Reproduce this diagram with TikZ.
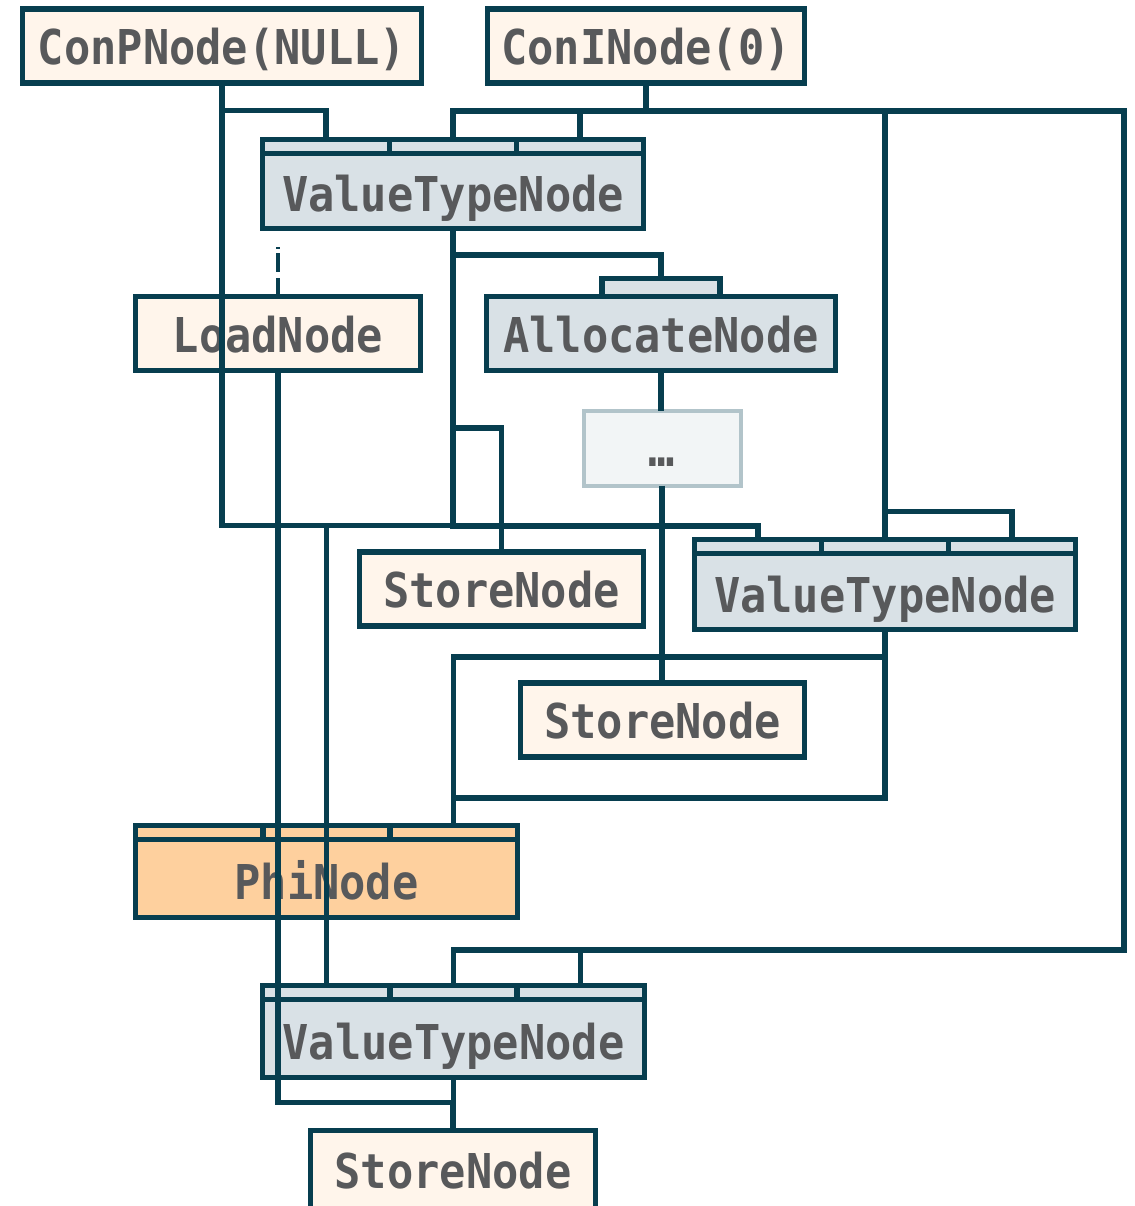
\documentclass[tikz,border=0pt]{standalone}
\usepackage{fontspec}
\newfontfamily\graphfont[FakeStretch=0.91]{DejaVu Sans Mono}
\usepackage{tikz}
\usetikzlibrary{calc}

\definecolor{wirecol}{HTML}{073E4F}
\definecolor{creamfill}{HTML}{FFF5EB}
\definecolor{typefill}{HTML}{D9E1E6}
\definecolor{phifill}{HTML}{FED09E}
\definecolor{dotsfill}{HTML}{F2F5F6}
\definecolor{dotsline}{HTML}{B2C4CA}
\definecolor{labelgray}{HTML}{58595B}

\begin{document}
\begin{tikzpicture}[x=1pt, y=-1pt,
    wire/.style={draw=wirecol, line width=5.5pt},
    box/.style={rectangle, draw=wirecol, line width=5.5pt, inner sep=0pt, outer sep=0pt,
      text=labelgray, font=\graphfont\bfseries\fontsize{48}{54}\selectfont,
      text height=37pt, text depth=0pt},
    plainbox/.style={box, fill=creamfill, minimum height=74pt},
    headbox/.style={box, text height=55pt,
      path picture={
        \coordinate (hnw) at (path picture bounding box.north west);
        \coordinate (hne) at (path picture bounding box.north east);
        \draw[wire] ([yshift=-14pt]hnw) -- ([yshift=-14pt]hne);
        \draw[wire] ($(hnw)!1/3!(hne)$) -- ++(0pt,-14pt);
        \draw[wire] ($(hnw)!2/3!(hne)$) -- ++(0pt,-14pt);
      }},
    tabbox/.style={rectangle, draw=wirecol, line width=5.5pt, fill=typefill,
      inner sep=0pt, outer sep=0pt, minimum width=118pt, minimum height=18pt},
    dotsbox/.style={box, draw=dotsline, line width=4pt, fill=dotsfill}
  ]
  \useasboundingbox (0,0) rectangle (1134,1206);

  % nodes
  \node[plainbox, minimum width=399pt] at (222,46) (conp) {ConPNode(NULL)};
  \node[plainbox, minimum width=317pt] at (646,46) (coni) {ConINode(0)};
  \node[headbox, fill=typefill, minimum width=381pt, minimum height=89pt] at (453,184) (vtnA) {ValueTypeNode};
  \node[plainbox, minimum width=285pt] at (278,333.5) (load) {LoadNode};
  \node[plainbox, fill=typefill, minimum width=349pt] at (661,333.5) (alloc) {AllocateNode};
  \node[tabbox, anchor=south] at (alloc.north) (alloctab) {};
  \node[dotsbox, minimum width=157pt, minimum height=75pt] at (662,448) (dots) {…};
  \node[plainbox, minimum width=284pt] at (501.5,589) (store1) {StoreNode};
  \node[headbox, fill=typefill, minimum width=381pt, minimum height=90pt] at (885,584.5) (vtnB) {ValueTypeNode};
  \node[plainbox, minimum width=284pt] at (662.5,720) (store2) {StoreNode};
  \node[headbox, fill=phifill, minimum width=382pt, minimum height=92pt] at (326.5,871.5) (phi) {PhiNode};
  \node[headbox, fill=typefill, minimum width=382pt, minimum height=92pt] at (453.5,1031.5) (vtnC) {ValueTypeNode};
  \node[plainbox, minimum width=285pt, minimum height=78pt] at (453,1169.5) (store3) {StoreNode};
  \coordinate (ldtop) at ([yshift=50pt]load.north);

  % ConPNode(NULL)
  \draw[wire] (conp.south) -- ++(0,27.5) -| ([xshift=-127pt]vtnA.north);
  \draw[wire] (conp.south) -- ++(0,442.5) -| ([xshift=-127pt]vtnB.north);
  \draw[wire] (conp.south) -- ++(0,442.5) -| ([xshift=-127pt]vtnC.north);

  % ConINode(0)
  \draw[wire] (coni.south) -- ++(0,28) -| (vtnA.north);
  \draw[wire] (coni.south) -- ++(0,28) -| ([xshift=127pt]vtnA.north);
  \draw[wire] (coni.south) -- ++(0,28) -| (vtnB.north);
  \draw[wire] (coni.south) -- ++(0,28) -| ([yshift=28pt]vtnB.north) -| ([xshift=127pt]vtnB.north);
  \draw[wire] (coni.south) -- ++(0,28) -| ++(478,839) -| (vtnC.north);
  \draw[wire] (coni.south) -- ++(0,28) -| ++(478,839) -| ([xshift=127pt]vtnC.north);

  % first ValueTypeNode
  \draw[wire] (vtnA.south) -- ++(0,26.5) -| (alloctab.north);
  \draw[wire] (vtnA.south) -- ++(0,199.5) -| (store1.north);
  \draw[wire] (vtnA.south) -- ++(0,297.5) -| ([xshift=-127pt]vtnB.north);

  % LoadNode
  \draw[wire, line width=4pt, dash pattern=on 19pt off 6pt on 19pt off 4pt on 3pt off 10pt] (load.north) -- (ldtop);
  \draw[wire] (load.south) -- ++(0,732) -| (store3.north);

  % AllocateNode
  \draw[wire] (alloc.south) -- (alloc.south |- dots.north);
  \draw[wire] (dots.south) -- (dots.south |- store2.north);

  % second ValueTypeNode
  \draw[wire] (vtnB.south) -- ++(0,27.5) -| ([xshift=127pt]phi.north);
  \draw[wire] (vtnB.south) -- ++(0,168.5) -| ([xshift=127pt]phi.north);

  % third ValueTypeNode
  \draw[wire] (vtnC.south) -- (vtnC.south |- store3.north);
\end{tikzpicture}
\end{document}
